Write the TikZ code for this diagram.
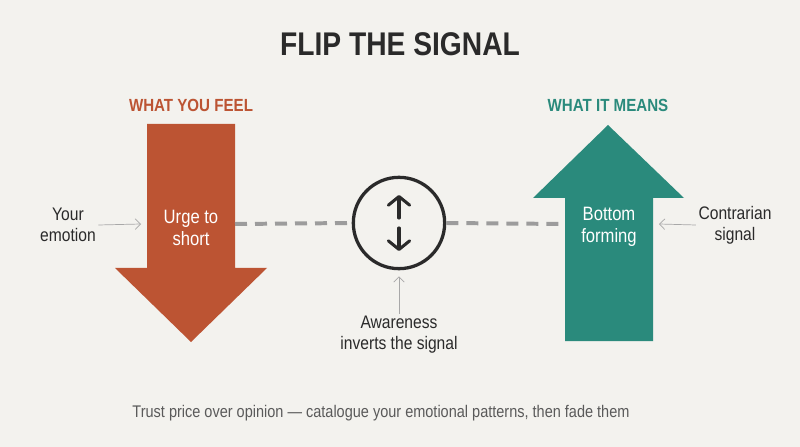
\documentclass[tikz,border=0pt]{standalone}
\usepackage{fontspec}
\setmainfont[FakeStretch=0.86]{Liberation Sans}
\usepackage{xcolor}
\usetikzlibrary{arrows.meta,positioning,calc}
\definecolor{paper}{HTML}{F3F2EE}
\definecolor{feelred}{HTML}{BC5433}
\definecolor{meanteal}{HTML}{2A8A7C}
\definecolor{inkdark}{HTML}{2A2A2A}
\definecolor{inkgrey}{HTML}{5A5A5A}
\definecolor{pointgrey}{HTML}{A8A8A8}
\definecolor{dashgrey}{HTML}{9C9C9C}
\tikzset{
  titletext/.style={font=\bfseries\fontsize{28}{32}\selectfont, text=inkdark},
  headlabel/.style={font=\bfseries\fontsize{15}{18}\selectfont},
  inlabel/.style={align=center, text=white, font=\fontsize{16.5}{19}\selectfont, inner sep=1pt},
  sidelabel/.style={align=center, text=inkdark, font=\fontsize{15.5}{18}\selectfont, inner sep=2pt},
  flipring/.style={circle, draw=inkdark, line width=2.8pt, minimum size=27.4mm},
  innerarrow/.style={-{Straight Barb[length=2.6mm, width=6.4mm, round]}, line width=2.6pt, line cap=round, draw=inkdark},
  pointer/.style={-{Straight Barb[length=1.6mm, width=3.2mm]}, line width=0.6pt, draw=pointgrey},
  dashline/.style={line width=3.4pt, draw=dashgrey, dash pattern=on 3.6mm off 2.4mm}
}
\begin{document}
\begin{tikzpicture}[x=0.3mm, y=-0.3mm]
  \fill[paper] (0,0) rectangle (800,447);
  \node[titletext] (title) at (400,44) {FLIP THE SIGNAL};
  % what you feel
  \fill[feelred] (147,124) -- (235,124) -- (235,268) -- (267,268) -- (191,342) -- (115,268) -- (147,268) -- cycle;
  \node[headlabel, text=feelred] (feel) at (191,105) {WHAT YOU FEEL};
  \node[inlabel] (urge) at (191,228) {Urge to\\short};
  \coordinate (feelL) at (141,224);
  \coordinate (feelR) at (235,224);
  % what it means
  \fill[meanteal] (608,125) -- (684,198) -- (653,198) -- (653,341) -- (565,341) -- (565,198) -- (533,198) -- cycle;
  \node[headlabel, text=meanteal] (mean) at (608,105) {WHAT IT MEANS};
  \node[inlabel] (bottom) at (609,227) {Bottom\\forming};
  \coordinate (meanL) at (565,224);
  \coordinate (meanR) at (659,224);
  % the flip
  \node[flipring] (flip) at (399,223) {};
  \draw[dashline] (feelR) -- (flip.west);
  \draw[dashline] (flip.east) -- (meanL);
  \draw[innerarrow] ($(flip.center)+(0,-5)$) -- ++(0,-23);
  \draw[innerarrow] ($(flip.center)+(0,5)$) -- ++(0,23);
  \node[sidelabel] (aware) at (399,335) {Awareness\\inverts the signal};
  \draw[pointer] (aware.north) -- ($(flip.south)+(0,6)$);
  % side notes
  \node[sidelabel] (yours) at (68,225) {Your\\emotion};
  \draw[pointer] (yours.east) -- (feelL);
  \node[sidelabel] (contra) at (735,225) {Contrarian\\signal};
  \draw[pointer] (contra.west) -- (meanR);
  \node[text=inkgrey, font=\fontsize{14.4}{17}\selectfont] (footer) at (381,413) {Trust price over opinion — catalogue your emotional patterns, then fade them};
\end{tikzpicture}
\end{document}
